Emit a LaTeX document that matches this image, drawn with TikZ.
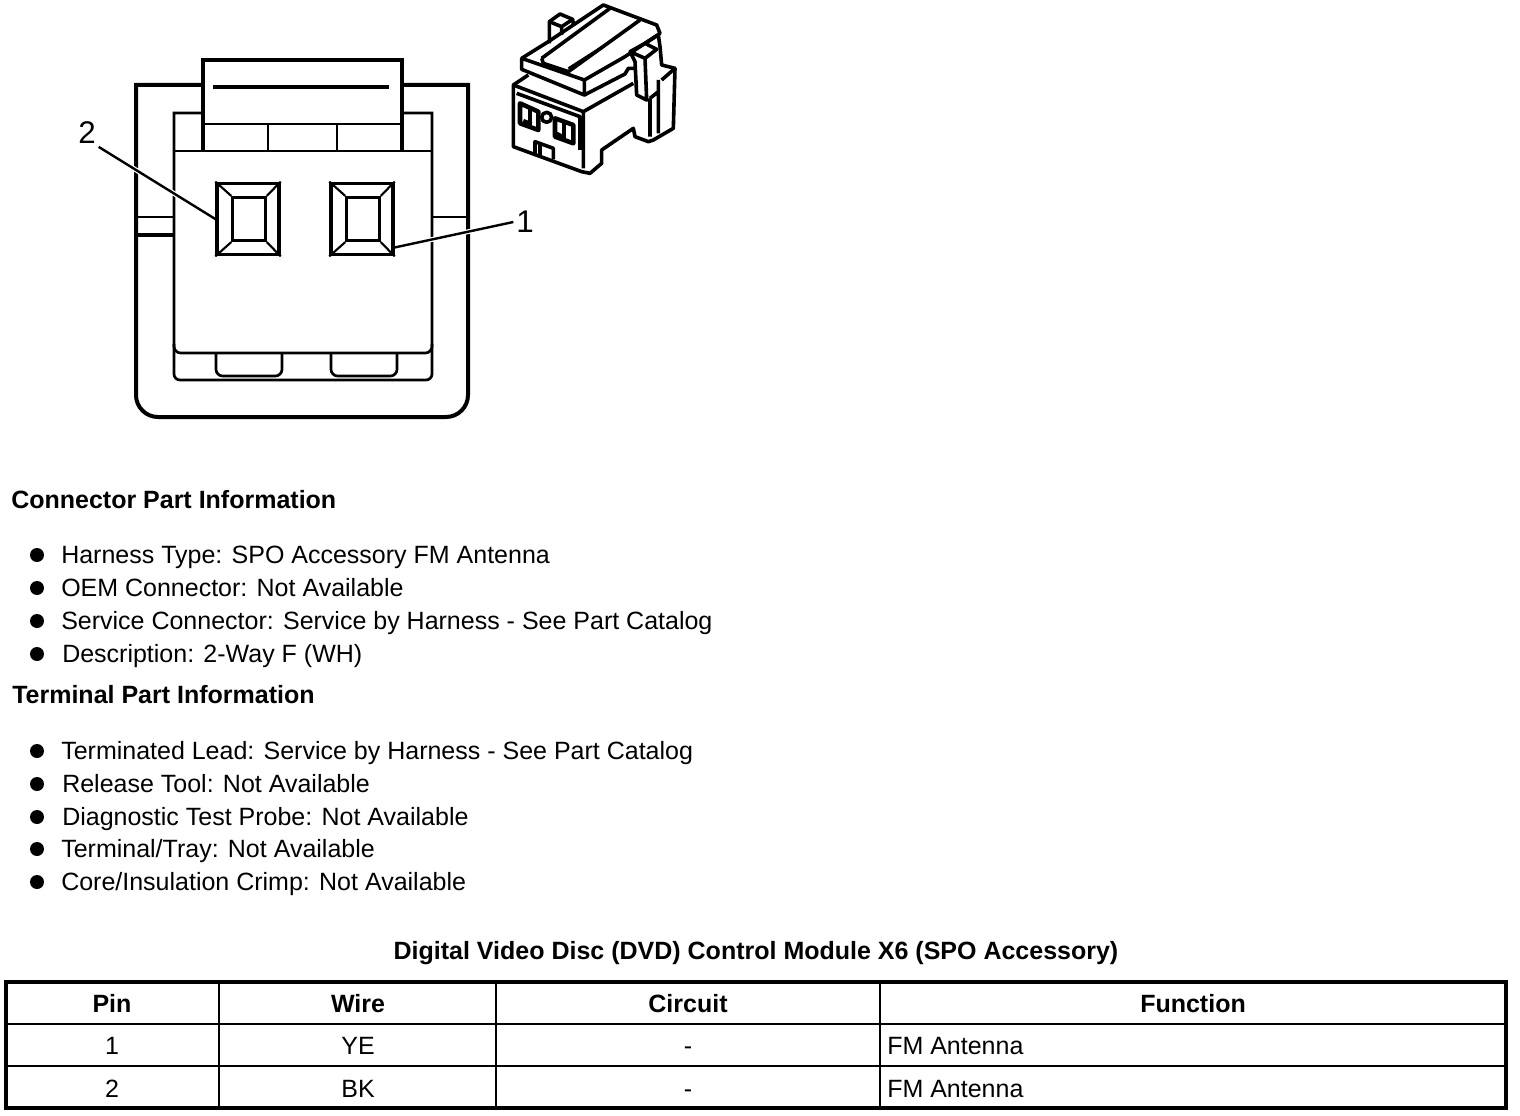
\documentclass[tikz,border=0pt]{standalone}
\usepackage{fontspec}
\setmainfont{Liberation Sans}
\usetikzlibrary{positioning}
\tikzset{info/.style={anchor=base west, inner sep=0pt, font=\fontsize{18.75}{20}\selectfont},
         head/.style={info, font=\fontsize{18.75}{20}\selectfont\bfseries},
         cell/.style={anchor=base, inner sep=0pt, font=\fontsize{18.75}{20}\selectfont},
         hcell/.style={cell, font=\fontsize{18.75}{20}\selectfont\bfseries},
         callout/.style={inner sep=2pt, font=\fontsize{23.5}{24}\selectfont},
         dot/.style={circle, fill=black, inner sep=0pt, minimum size=10.5pt},
         pinbox/.style={draw, line width=2.6pt, minimum width=46.5pt, minimum height=53.5pt, inner sep=0pt}}
\begin{document}
\begin{tikzpicture}[x=0.75pt, y=-0.75pt, line join=miter]
    \useasboundingbox (0,0) rectangle (1520,1116);
    % outer shell
    \draw[line width=3pt] (202,85) -- (136,85) -- (136,395) arc [start angle=180, end angle=270, radius=16.5pt] -- (446,417) arc [start angle=270, end angle=360, radius=16.5pt] -- (468,85) -- (403,85);
    \draw[line width=1.9pt] (174,217) -- (136,217) (432,217) -- (468,217);
    \draw[line width=2.6pt] (174,235) -- (136,235);
    % cap
    \draw[line width=2.8pt] (203,151) -- (203,60) -- (402,60) -- (402,151);
    \draw[line width=2pt] (203,124) -- (402,124);
    \draw[line width=2.4pt] (213,87) -- (389,87);
    \foreach \x in {268,337}
      \draw[line width=2pt] (\x,124) -- (\x,151);
    % inner body
    \draw[line width=2pt] (203,113) -- (174,113) -- (174,374) arc [start angle=180, end angle=270, radius=4.5pt] -- (426,380) arc [start angle=270, end angle=360, radius=4.5pt] -- (432,113) -- (403,113);
    \draw[line width=2pt] (174,151) -- (432,151);
    \draw[line width=2pt, rounded corners=5pt] (174,344) -- (174,353) -- (432,353) -- (432,344);
    \draw[line width=2pt, rounded corners=5pt] (216,353) -- (216,376) -- (282,376) -- (282,353);
    \draw[line width=2pt, rounded corners=5pt] (331,353) -- (331,376) -- (397,376) -- (397,353);
    % pin cavities
    \node[callout] (lblB) at (87,133) {2};
    \node[callout] (lblA) at (525,222) {1};
    \node[pinbox] (pinB) at (248,219) {};
    \node[pinbox] (pinA) at (362,219) {};
    \draw[white, line width=3.6pt, shorten >=2.5pt] (lblB.south east) -- (pinB.west);
    \draw[white, line width=3.6pt, shorten >=2.5pt] (lblA.west) -- (pinA.-41);
    \draw[line width=1.8pt] (lblB.south east) -- (pinB.west);
    \draw[line width=1.8pt] (lblA.west) -- (pinA.-41);
    \foreach \n in {pinA,pinB} {
      \node[draw, line width=2.2pt, minimum width=24.5pt, minimum height=32.5pt, inner sep=0pt] (\n in) at ([xshift=0.75pt]\n) {};
      \foreach \c in {north west,north east,south west,south east}
        \draw[line width=1.6pt] (\n.\c) -- (\n in.\c);
    }
    % small view of the connector
    \begin{scope}[shift={(490,0)}, x=0.25pt, y=-0.25pt, line width=2.7pt, line join=round]
      \draw (95,175) -- (95,208) -- (283,285) -- (283,240) -- (95,175) -- (175,125) -- (340,15) -- (500,75) -- (510,100) -- (405,170) -- (283,240);
      \draw (283,285) -- (405,222) -- (415,205) -- (435,205);
      \draw (155,175) -- (360,25) (155,175) -- (160,190) -- (235,215) -- (450,60);
      \draw[line width=1.6pt] (235,205) -- (360,125);
      \draw (178,130) -- (178,65) -- (210,42) -- (248,58) -- (250,72);
      \draw (178,65) -- (215,80) -- (248,58) (215,80) -- (215,105);
      \draw (420,155) -- (465,130) -- (500,148) -- (465,175) -- (420,155) -- (435,185) -- (440,285) -- (470,300) -- (465,175);
      \draw (465,130) -- (505,105) -- (510,140) -- (515,195) -- (555,205) -- (550,385) -- (490,420) -- (475,425) -- (435,410) -- (430,385) -- (335,450) -- (335,490) -- (300,520) -- (275,515) -- (70,440) -- (70,255) -- (115,225);
      \draw (515,240) -- (555,205) (505,240) -- (505,400) (480,295) -- (505,275) (480,295) -- (480,410);
      \draw (70,255) -- (280,335) -- (430,250) (280,335) -- (280,505);
      \draw (80,280) -- (270,350) -- (270,450);
      \draw[line width=3.4pt] (90,310) -- (145,335) -- (145,390) -- (90,370) -- cycle;
      \draw (120,325) -- (120,378) (100,362) -- (125,372);
      \draw (170,352) circle [radius=15];
      \draw[line width=3.4pt] (195,355) -- (250,375) -- (250,430) -- (195,410) -- cycle;
      \draw (222,365) -- (222,420) (200,400) -- (222,412);
      \draw (135,460) -- (135,425) -- (190,445) -- (190,478) (150,430) -- (150,465);
    \end{scope}
    % part information
    \node[head] (connhead) at (11,508) {Connector Part Information};
    \foreach \i/\y/\x/\t in {a/555/61/{Harness Type: SPO Accessory FM Antenna},
                             b/588/61/{OEM Connector: Not Available},
                             c/621/61/{Service Connector: Service by Harness - See Part Catalog},
                             d/654/62/{Description: 2-Way F (WH)},
                             e/751/61/{Terminated Lead: Service by Harness - See Part Catalog},
                             f/784/62/{Release Tool: Not Available},
                             g/817/62/{Diagnostic Test Probe: Not Available},
                             h/849/61/{Terminal/Tray: Not Available},
                             i/882/61/{Core/Insulation Crimp: Not Available}} {
      \node[dot] (dot\i) at (37,\y) {};
      \node[info, yshift=-6.2pt] (item\i) at (\x,\y) {\t};
    }
    \node[head] (termhead) at (12,703) {Terminal Part Information};
    % pinout table
    \node[hcell] (title) at (756,959) {Digital Video Disc (DVD) Control Module X6 (SPO Accessory)};
    \draw[line width=3pt] (6,982) rectangle (1506,1108);
    \draw[line width=2.2pt] (6,1024) -- (1506,1024);
    \draw[line width=1.2pt] (6,1066) -- (1506,1066);
    \draw[line width=1.9pt] (219,982) -- (219,1108);
    \foreach \x in {496,880}
      \draw[line width=1pt] (\x,982) -- (\x,1108);
    \foreach \x/\t in {112/Pin,358/Wire,688/Circuit,1193/Function}
      \node[hcell] (h\t) at (\x,1012) {\t};
    \foreach \y/\p/\w in {1054/1/YE,1097/2/BK} {
      \node[cell] (pin\p) at (112,\y) {\p};
      \node[cell] (wire\p) at (358,\y) {\w};
      \node[cell] (circ\p) at (688,\y) {-};
      \node[info] (func\p) at (887,\y) {FM Antenna};
    }
\end{tikzpicture}
\end{document}
